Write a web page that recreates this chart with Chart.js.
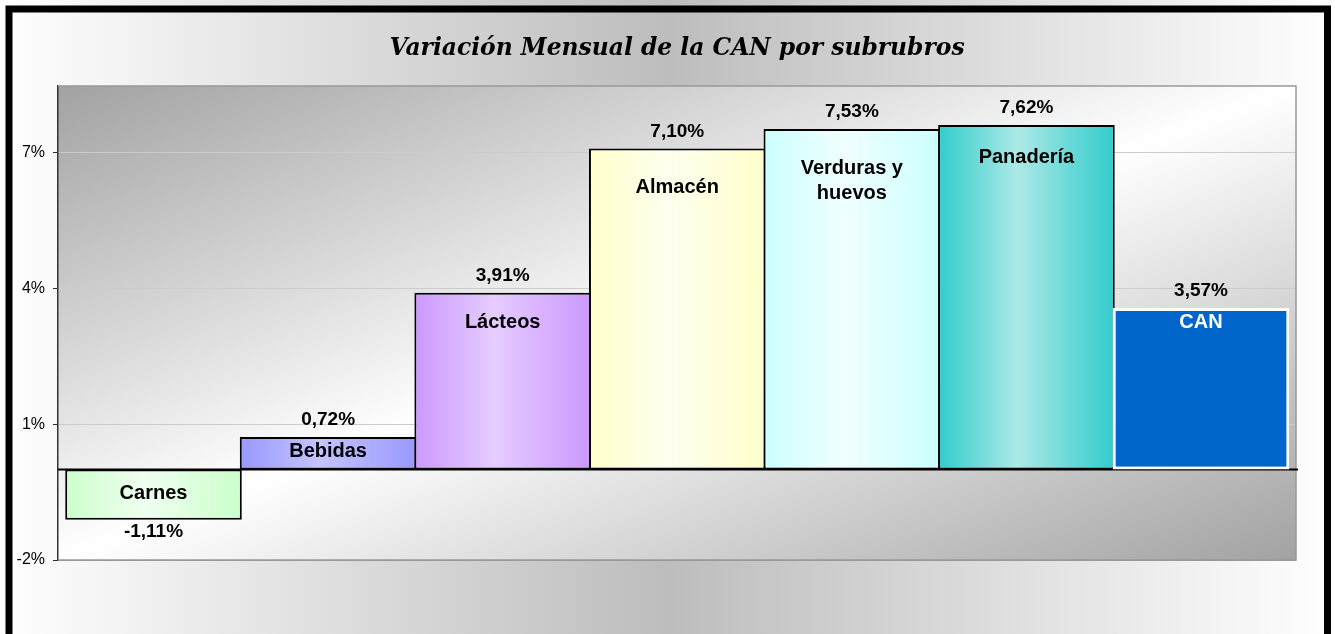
<!DOCTYPE html>
<html>
<head>
<meta charset="utf-8">
<script src="https://cdn.jsdelivr.net/npm/chart.js@4.4.1/dist/chart.umd.min.js"></script>
<style>
  html, body { margin: 0; padding: 0; background: #fff; }
  #wrap { width: 1335px; height: 634px; }
</style>
</head>
<body>
<div id="wrap"><canvas id="chart"></canvas></div>
<script>
const title = 'Variación Mensual de la CAN por subrubros';
const categories = ['Carnes', 'Bebidas', 'Lácteos', 'Almacén', ['Verduras y', 'huevos'], 'Panadería', 'CAN'];
const values = [-1.11, 0.72, 3.91, 7.10, 7.53, 7.62, 3.57];
const yTicks = [-2, 1, 4, 7];

// bar look: gradient edge / centre colour, outline, label colour
const edgeColors = ['#ccffcc', '#9999ff', '#cc99ff', '#ffffcc', '#ccffff', '#33cccc', '#0066cc'];
const midColors = ['#effff0', '#c4c4ff', '#e6ccff', '#fffff0', '#effffe', '#ace9e7', '#0066cc'];
const outlineColors = ['#000', '#000', '#000', '#000', '#000', '#000', '#fff'];
const outlineWidths = [2, 2, 2, 2, 2, 2, 3];
const nameColors = ['#000', '#000', '#000', '#000', '#000', '#000', '#fff'];
// where the category name sits below the top of its bar (px)
const nameOffsets = [24, 15, 30, 39, 40, 33, 14];

function barFill(c) {
  const chart = c.chart;
  const i = c.dataIndex;
  const x = chart.scales.x;
  if (!chart.chartArea || !x) return edgeColors[i];
  const cx = x.getPixelForValue(i);
  const half = (x.getPixelForValue(1) - x.getPixelForValue(0)) / 2;
  const g = chart.ctx.createLinearGradient(cx - half, 0, cx + half, 0);
  g.addColorStop(0, edgeColors[i]);
  g.addColorStop(0.45, midColors[i]);
  g.addColorStop(1, edgeColors[i]);
  return g;
}

const backdrop = {
  id: 'backdrop',
  beforeDraw(chart) {
    const { ctx, width, height, chartArea: a } = chart;
    ctx.save();
    const bg = ctx.createLinearGradient(0, 0, width, 0);
    bg.addColorStop(0, '#ffffff');
    bg.addColorStop(0.5, '#bdbdbd');
    bg.addColorStop(1, '#ffffff');
    ctx.fillStyle = bg;
    ctx.fillRect(0, 0, width, height);

    // plot area, diagonal grey-white-grey
    ctx.translate(a.left, a.top);
    ctx.scale(a.right - a.left, a.bottom - a.top);
    const pg = ctx.createLinearGradient(0, 0, 1, 1);
    pg.addColorStop(0, '#a2a2a2');
    pg.addColorStop(0.5, '#ffffff');
    pg.addColorStop(1, '#a2a2a2');
    ctx.fillStyle = pg;
    ctx.fillRect(0, 0, 1, 1);
    ctx.restore();

    ctx.save();
    ctx.strokeStyle = '#000';
    ctx.lineWidth = 7;
    ctx.strokeRect(9, 9, 1318.5, 660);
    ctx.restore();
  },
  beforeDatasetsDraw(chart) {
    const { ctx, chartArea: a, scales: { y } } = chart;
    ctx.save();
    ctx.strokeStyle = '#999';
    ctx.lineWidth = 1.5;
    ctx.beginPath();
    ctx.moveTo(a.left, a.top);
    ctx.lineTo(a.right, a.top);
    ctx.lineTo(a.right, a.bottom);
    ctx.lineTo(a.left, a.bottom);
    ctx.stroke();
    const y0 = y.getPixelForValue(0);
    ctx.strokeStyle = '#000';
    ctx.lineWidth = 2;
    ctx.beginPath();
    ctx.moveTo(a.left, y0);
    ctx.lineTo(a.right + 2, y0);
    ctx.stroke();
    ctx.restore();
  }
};

const barLabels = {
  id: 'barLabels',
  afterDatasetsDraw(chart) {
    const { ctx } = chart;
    const meta = chart.getDatasetMeta(0);
    ctx.save();
    ctx.textAlign = 'center';
    ctx.textBaseline = 'middle';
    meta.data.forEach((bar, i) => {
      const v = values[i];
      const top = Math.min(bar.y, bar.base);
      const bottom = Math.max(bar.y, bar.base);
      ctx.font = 'bold 19px "Liberation Sans", Arial, sans-serif';
      ctx.fillStyle = '#000';
      ctx.fillText(v.toFixed(2).replace('.', ',') + '%', bar.x, v < 0 ? bottom + 12 : top - 17);
      ctx.font = 'bold 20px "Liberation Sans", Arial, sans-serif';
      ctx.fillStyle = nameColors[i];
      [].concat(categories[i]).forEach((line, k) => {
        ctx.fillText(line, bar.x, top + nameOffsets[i] + k * 25);
      });
    });
    ctx.restore();
  }
};

new Chart(document.getElementById('chart'), {
  type: 'bar',
  data: {
    datasets: [{
      data: values.map((v, i) => ({ x: i, y: v })),
      backgroundColor: barFill,
      borderColor: outlineColors,
      borderWidth: outlineWidths,
      borderSkipped: false,
      barPercentage: 1.0115,
      categoryPercentage: 1
    }]
  },
  options: {
    responsive: true,
    maintainAspectRatio: false,
    animation: false,
    layout: { padding: { top: 0, right: 39, bottom: 74, left: 0 } },
    scales: {
      x: {
        type: 'linear',
        offset: false,
        min: -0.547,
        max: 6.544,
        display: false,
        afterBuildTicks: s => { s.ticks = values.map((v, i) => ({ value: i })); }
      },
      y: {
        min: -2,
        max: 8.48,
        afterBuildTicks: s => { s.ticks = yTicks.map(v => ({ value: v })); },
        afterFit: s => { s.width = 58; },
        ticks: {
          callback: v => v + '%',
          color: '#000',
          font: { family: 'Liberation Sans', size: 16 },
          padding: 8
        },
        grid: {
          color: c => (c.tick && c.tick.value === -2 ? '#999' : '#cccccc'),
          tickColor: '#333',
          tickLength: 5
        },
        border: { color: '#333', width: 1.5 }
      }
    },
    plugins: {
      legend: { display: false },
      tooltip: { enabled: false },
      title: {
        display: true,
        fullSize: false,
        text: title,
        color: '#000',
        font: { family: 'DejaVu Serif', size: 23.4, style: 'italic', weight: 'bold', lineHeight: 1.2 },
        padding: { top: 35, bottom: 22.9 }
      }
    }
  },
  plugins: [backdrop, barLabels]
});
</script>
</body>
</html>
